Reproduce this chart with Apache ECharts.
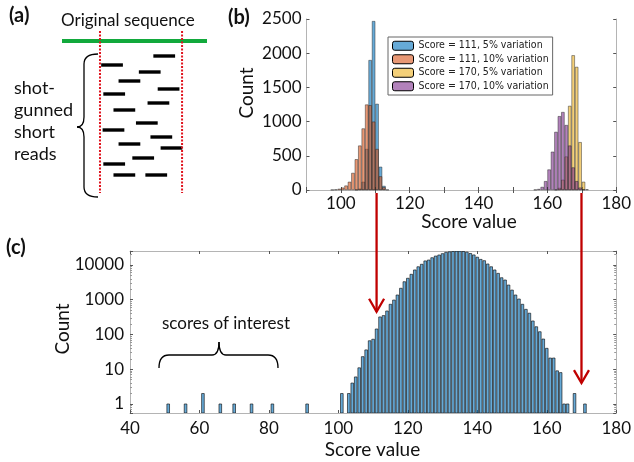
<!DOCTYPE html>
<html>
<head>
<meta charset="utf-8">
<script src="https://cdn.jsdelivr.net/npm/echarts@6/dist/echarts.min.js"></script>
<style>
html, body { margin: 0; padding: 0; background: #fff; }
#main { width: 634px; height: 462px; }
</style>
</head>
<body>
<div id="main"></div>
<script>
// (a) shot-gunned reads: start position along the sequence (0..100) and row below the line
var readStart = [63, 27, 53, 39, 66, 28.5, 59, 35.5, 51, 28, 61, 39, 68, 48.5, 28.5, 35.5, 57.5];
var readRow = [15, 24, 31, 40, 48, 53, 62, 69, 82, 89, 96, 103, 107, 117, 123, 134, 134];
var readLength = 15;
var sequenceSpan = [0, 100];
var regionBounds = [26.2, 82.8];

// (b) histograms (bin centres, counts)
var legendNames = ['Score = 111, 5% variation', 'Score = 111, 10% variation',
                   'Score = 170, 5% variation', 'Score = 170, 10% variation'];
var scoreB1 = [104.5, 105.5, 106.5, 107.5, 108.5, 109.5, 110.5, 111.5, 112.5, 113.5];
var countB1 = [5, 20, 120, 600, 1900, 2470, 1260, 340, 60, 5];
var scoreB2 = [97.5, 98.5, 99.5, 100.5, 101.5, 102.5, 103.5, 104.5, 105.5, 106.5, 107.5, 108.5, 109.5, 110.5, 111.5, 112.5];
var countB2 = [3, 8, 18, 35, 65, 120, 250, 450, 650, 900, 1250, 1240, 1000, 600, 200, 40];
var scoreB3 = [162.5, 163.5, 164.5, 165.5, 166.5, 167.5, 168.5, 169.5, 170.5, 171.5];
var countB3 = [5, 30, 150, 490, 1230, 1970, 1800, 700, 120, 10];
var scoreB4 = [156.5, 157.5, 158.5, 159.5, 160.5, 161.5, 162.5, 163.5, 164.5, 165.5, 166.5, 167.5, 168.5, 169.5, 170.5];
var countB4 = [5, 15, 45, 130, 300, 560, 850, 1080, 1140, 950, 650, 330, 130, 35, 8];

// (c) all scores, log count
var scoreC = [51, 56, 61, 66, 70, 75, 81, 91, 101,
  103, 104, 105, 106, 107, 108, 109, 110, 111, 112,
  113, 114, 115, 116, 117, 118, 119, 120, 121, 122,
  123, 124, 125, 126, 127, 128, 129, 130, 131, 132,
  133, 134, 135, 136, 137, 138, 139, 140, 141, 142,
  143, 144, 145, 146, 147, 148, 149, 150, 151, 152,
  153, 154, 155, 156, 157, 158, 159, 160, 161, 162,
  163, 164, 165, 166, 168, 171];
var countC = [1, 1, 2, 1, 1, 1, 1, 1, 2,
  2, 4, 6, 11, 23, 36, 66, 73, 144, 320,
  350, 475, 740, 980, 1370, 2140, 3300, 4150, 5400, 7200,
  8900, 10500, 13100, 13900, 16200, 18100, 19400, 21200, 23200, 24000,
  24600, 25000, 25100, 24500, 23500, 21500, 19500, 16800, 14500, 13300,
  10700, 8900, 7200, 5750, 4300, 3700, 2650, 1900, 1370, 1050,
  740, 530, 410, 245, 167, 120, 74, 40, 21, 21,
  9, 8, 1, 1, 2, 1];
var logMinC = 0.55, logMaxC = 25300;

// arrows from (b) to (c)
var arrowScores = [111, 170];
var arrowTipCounts = [450, 4];

var FONT = 'Lato, "Open Sans", sans-serif';
var FRAME = '#b4b4b4';
var colorsB = ['rgba(0,114,189,0.6)', 'rgba(217,83,25,0.6)', 'rgba(237,177,32,0.6)', 'rgba(126,47,142,0.6)'];

function pairs(xs, ys) {
    return xs.map(function (x, i) { return [x, ys[i]]; });
}

var chart = echarts.init(document.getElementById('main'));

var tickStyle = { inside: true, length: 3, lineStyle: { color: '#555' } };
var labelStyle = { fontFamily: FONT, fontSize: 17, color: '#111' };

function isPow10(v) {
    var l = Math.log10(v);
    return Math.abs(l - Math.round(l)) < 1e-6;
}

var barSeries = [[scoreB1, countB1], [scoreB2, countB2], [scoreB3, countB3], [scoreB4, countB4]].map(function (d, i) {
    return {
        name: legendNames[i],
        type: 'bar',
        xAxisIndex: 1,
        yAxisIndex: 1,
        barWidth: 3.4,
        barGap: '-100%',
        itemStyle: { color: colorsB[i], borderColor: 'rgba(30,30,30,0.75)', borderWidth: 0.6 },
        data: pairs(d[0], d[1])
    };
});

var option = {
    animation: false,
    grid: [
        { left: 62, top: 31, width: 145, height: 162 },
        { left: 306.5, top: 19, width: 311.5, height: 171 },
        { left: 130, top: 251, width: 489, height: 162 }
    ],
    legend: {
        data: legendNames,
        orient: 'vertical',
        left: 388,
        top: 37,
        padding: [2, 4, 2, 4],
        itemGap: 0,
        itemWidth: 21,
        itemHeight: 9,
        borderColor: '#666',
        borderWidth: 1,
        backgroundColor: '#fff',
        itemStyle: { borderColor: '#000', borderWidth: 1 },
        textStyle: { fontFamily: '"DejaVu Sans Condensed", "Liberation Sans Narrow", sans-serif', fontSize: 10.5, lineHeight: 13.5, color: '#222' }
    },
    xAxis: [
        { gridIndex: 0, type: 'value', min: sequenceSpan[0], max: sequenceSpan[1], show: false },
        {
            gridIndex: 1, type: 'value', min: 90, max: 180, interval: 10,
            axisLine: { lineStyle: { color: FRAME } }, axisTick: tickStyle, splitLine: { show: false },
            axisLabel: Object.assign({ margin: 5, formatter: function (v) { return v % 20 === 0 ? String(v) : ''; } }, labelStyle)
        },
        {
            gridIndex: 1, type: 'value', position: 'top', min: 90, max: 180, interval: 10,
            axisLine: { lineStyle: { color: FRAME } }, axisTick: tickStyle, splitLine: { show: false }, axisLabel: { show: false }
        },
        {
            gridIndex: 2, type: 'value', min: 40, max: 180, interval: 20,
            axisLine: { lineStyle: { color: FRAME } }, axisTick: tickStyle, splitLine: { show: false },
            axisLabel: Object.assign({ margin: 7 }, labelStyle)
        },
        {
            gridIndex: 2, type: 'value', position: 'top', min: 40, max: 180, interval: 20,
            axisLine: { lineStyle: { color: FRAME } }, axisTick: tickStyle, splitLine: { show: false }, axisLabel: { show: false }
        }
    ],
    yAxis: [
        { gridIndex: 0, type: 'value', min: -10, max: 152, inverse: true, show: false },
        {
            gridIndex: 1, type: 'value', min: 0, max: 2500, interval: 500,
            axisLine: { show: true, lineStyle: { color: FRAME } }, axisTick: tickStyle, splitLine: { show: false },
            axisLabel: Object.assign({ margin: 5, formatter: function (v) { return String(v); } }, labelStyle)
        },
        {
            gridIndex: 1, type: 'value', position: 'right', min: 0, max: 2500, interval: 500,
            axisLine: { show: true, lineStyle: { color: FRAME } }, axisTick: tickStyle, splitLine: { show: false }, axisLabel: { show: false }
        },
        {
            gridIndex: 2, type: 'log', logBase: 10, min: logMinC, max: logMaxC,
            axisLine: { show: true, lineStyle: { color: FRAME } }, axisTick: tickStyle, splitLine: { show: false },
            minorTick: { show: true, splitNumber: 9, length: 2, lineStyle: { color: '#999' } },
            axisLabel: Object.assign({ margin: 6, showMinLabel: false, showMaxLabel: false,
                formatter: function (v) { return isPow10(v) ? String(Math.round(v)) : ''; } }, labelStyle)
        },
        {
            gridIndex: 2, type: 'log', logBase: 10, position: 'right', min: logMinC, max: logMaxC,
            axisLine: { show: true, lineStyle: { color: FRAME } }, axisTick: tickStyle, splitLine: { show: false },
            minorTick: { show: true, splitNumber: 9, length: 2, lineStyle: { color: '#999' } },
            axisLabel: { show: false }
        }
    ],
    series: [
        {
            type: 'line', xAxisIndex: 0, yAxisIndex: 0, symbol: 'none',
            lineStyle: { color: '#12a93c', width: 4 },
            data: [[sequenceSpan[0], 0], [sequenceSpan[1], 0]]
        },
        {
            type: 'line', xAxisIndex: 0, yAxisIndex: 0, symbol: 'none',
            lineStyle: { color: '#e0141e', width: 2, type: [2, 1.5] },
            data: [[regionBounds[0], -10], [regionBounds[0], 152]]
        },
        {
            type: 'line', xAxisIndex: 0, yAxisIndex: 0, symbol: 'none',
            lineStyle: { color: '#e0141e', width: 2, type: [2, 1.5] },
            data: [[regionBounds[1], -10], [regionBounds[1], 152]]
        },
        {
            type: 'custom', xAxisIndex: 0, yAxisIndex: 0,
            renderItem: function (params, api) {
                var p0 = api.coord([api.value(0), api.value(2)]);
                var p1 = api.coord([api.value(1), api.value(2)]);
                return { type: 'rect', shape: { x: p0[0], y: p0[1] - 1.7, width: p1[0] - p0[0], height: 3.4 }, style: { fill: '#000' } };
            },
            data: readStart.map(function (s, i) { return [s, s + readLength, readRow[i]]; })
        }
    ].concat(barSeries).concat([
        {
            type: 'custom', xAxisIndex: 3, yAxisIndex: 3, clip: true,
            renderItem: function (params, api) {
                var x = api.value(0), c = api.value(1);
                var top = api.coord([x + 0.38, c]);
                var base = api.coord([x - 0.38, logMinC]);
                return {
                    type: 'rect',
                    shape: { x: base[0], y: top[1], width: top[0] - base[0], height: base[1] - top[1] },
                    style: { fill: 'rgba(0,114,189,0.6)', stroke: '#000', lineWidth: 0.6 }
                };
            },
            data: pairs(scoreC, countC)
        }
    ])
};
chart.setOption(option);

function txt(text, x, y, size, opts) {
    opts = opts || {};
    return {
        type: 'text', x: x, y: y, rotation: opts.rotation || 0, z: 100,
        style: {
            text: text, fill: '#111',
            font: (opts.bold ? 'bold ' : '') + size + 'px ' + FONT,
            align: opts.align || 'left', textAlign: opts.align || 'left',
            verticalAlign: opts.valign || 'middle', textVerticalAlign: opts.valign || 'middle',
            lineHeight: opts.lineHeight
        }
    };
}

function quad(x1, y1, cx, cy, x2, y2) {
    return { type: 'bezierCurve', z: 100, shape: { x1: x1, y1: y1, cpx1: cx, cpy1: cy, x2: x2, y2: y2 },
             style: { stroke: '#000', lineWidth: 1.3, fill: null } };
}
function seg(x1, y1, x2, y2) {
    return { type: 'line', z: 100, shape: { x1: x1, y1: y1, x2: x2, y2: y2 }, style: { stroke: '#000', lineWidth: 1.3 } };
}

var elements = [
    txt('(a)', 9, 16, 20, { bold: true }),
    txt('(b)', 228, 18, 20, { bold: true }),
    txt('(c)', 6, 248, 20, { bold: true }),
    txt('Original sequence', 61, 21, 17),
    txt('shot-\ngunned\nshort\nreads', 14, 77, 18, { valign: 'top', lineHeight: 22 }),
    txt('Count', 246.5, 93, 19, { align: 'center', rotation: Math.PI / 2 }),
    txt('Score value', 469, 221.5, 19, { align: 'center' }),
    txt('Count', 63, 329, 19, { align: 'center', rotation: Math.PI / 2 }),
    txt('Score value', 372.5, 450, 19, { align: 'center' }),
    txt('scores of interest', 226, 324, 17, { align: 'center' }),
    // brace in (a)
    quad(98, 54, 84, 54, 84, 64), seg(84, 64, 84, 117), quad(84, 117, 84, 127, 77, 127),
    quad(77, 127, 84, 127, 84, 137), seg(84, 137, 84, 187), quad(84, 187, 84, 197, 98, 197),
    // brace in (c)
    quad(159, 368, 159, 355, 169, 355), seg(169, 355, 212, 355), quad(212, 355, 219, 355, 219, 342),
    quad(219, 342, 219, 355, 226, 355), seg(226, 355, 268, 355), quad(268, 355, 278, 355, 278, 368)
];

arrowScores.forEach(function (s, i) {
    var x = chart.convertToPixel({ xAxisIndex: 3 }, s);
    var y0 = chart.convertToPixel({ yAxisIndex: 1 }, 0) + 3;
    var y1 = chart.convertToPixel({ yAxisIndex: 3 }, arrowTipCounts[i]);
    elements.push({ type: 'line', z: 110, shape: { x1: x, y1: y0, x2: x, y2: y1 }, style: { stroke: '#c00000', lineWidth: 2.3 } });
    elements.push({ type: 'polyline', z: 110, shape: { points: [[x - 7.5, y1 - 13], [x, y1], [x + 7.5, y1 - 13]] }, style: { stroke: '#c00000', lineWidth: 2.3, fill: null } });
});

chart.setOption({ graphic: { elements: elements } });
</script>
</body>
</html>
